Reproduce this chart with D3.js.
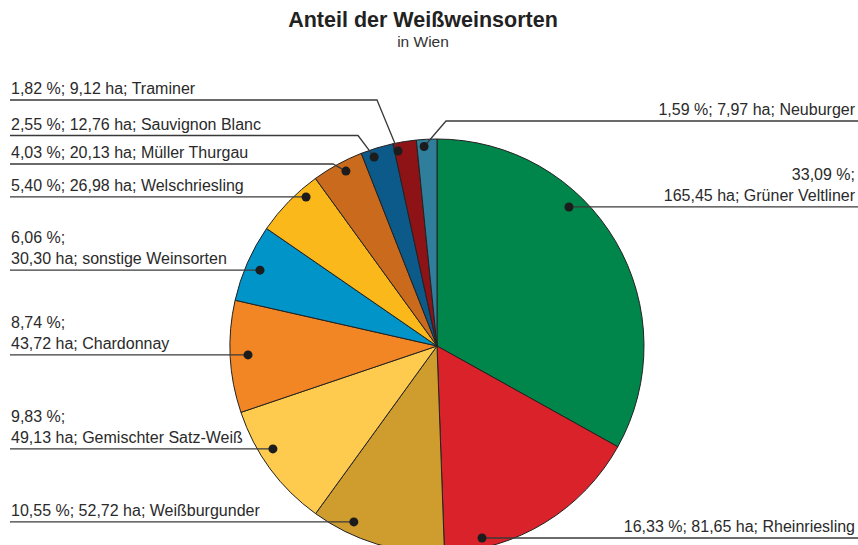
<!DOCTYPE html>
<html lang="de">
<head>
  <meta charset="UTF-8">
  <script src="https://d3js.org/d3.v7.min.js"></script>
  <style>
    body { margin: 0; background: #ffffff; font-family: "Liberation Sans", Arial, sans-serif; }
    .slice { stroke: #222222; stroke-width: 1px; }
    .leader { fill: none; stroke: #3a3a3a; stroke-width: 1.3px; }
    .dot { fill: #1c1c1c; }
    .label { font-size: 16px; fill: #2a2a2a; }
  </style>
</head>
<body>
  <div id="chart"></div>
  <script>
    // Rebsorten im Uhrzeigersinn ab 12 Uhr
    const sorten = ["Grüner Veltliner", "Rheinriesling", "Weißburgunder", "Gemischter Satz-Weiß",
      "Chardonnay", "sonstige Weinsorten", "Welschriesling", "Müller Thurgau",
      "Sauvignon Blanc", "Traminer", "Neuburger"];
    const anteil = [33.09, 16.33, 10.55, 9.83, 8.74, 6.06, 5.40, 4.03, 2.55, 1.82, 1.59];
    const hektar = [165.45, 81.65, 52.72, 49.13, 43.72, 30.30, 26.98, 20.13, 12.76, 9.12, 7.97];
    const farben = ["#00854a", "#d92229", "#cf9d2e", "#fecb4f", "#f28524", "#0094c9",
      "#fbb81b", "#c96a1c", "#0b5a8a", "#8d1317", "#2f7f9c"];

    const width = 858, height = 545;
    const cx = 437, cy = 346, R = 207;

    // Lage der Punkte (Winkel in Grad, Radius), Zeilenumbruch, Knickpunkt der Linie
    const dotAngle = [43.5, 166.8, 205.3, 237.9, 267.3, 293.2, 318.7, 332.5, 341.6, 348.7, 356.3];
    const dotRadius = [191.7, 197.2, 194.6, 193.7, 189.2, 192.6, 198.4, 197.2, 199.2, 198.9, 199.9];
    const twoLines = [true, false, false, true, true, true, false, false, false, false, false];
    const elbow = [null, null, null, null, null, null, null, [333, 164], [358, 135.5], [377, 100], [446, 121]];

    const de = d3.formatLocale({ decimal: ",", thousands: ".", grouping: [3], currency: ["", " €"] });
    const f2 = de.format(".2f");

    const svg = d3.select("#chart").append("svg")
      .attr("width", width)
      .attr("height", height);

    svg.append("text")
      .attr("x", 423).attr("y", 27)
      .attr("text-anchor", "middle")
      .style("font-size", "21.5px").style("font-weight", "bold").style("fill", "#222")
      .text("Anteil der Weißweinsorten");
    svg.append("text")
      .attr("x", 423).attr("y", 47)
      .attr("text-anchor", "middle")
      .style("font-size", "15.5px").style("fill", "#333")
      .text("in Wien");

    const pie = d3.pie().sort(null).value(d => d);
    const arc = d3.arc().innerRadius(0).outerRadius(R);
    const arcs = pie(anteil);

    const g = svg.append("g").attr("transform", `translate(${cx},${cy})`);
    g.selectAll("path.slice")
      .data(arcs)
      .enter().append("path")
      .attr("class", "slice")
      .attr("d", arc)
      .attr("fill", (d, i) => farben[i]);

    const toRad = d3.scaleLinear().domain([0, 360]).range([0, 2 * Math.PI]);

    sorten.forEach((name, i) => {
      const [px, py] = d3.pointRadial(toRad(dotAngle[i]), dotRadius[i]);
      const dx = cx + px, dy = cy + py;
      const right = dotAngle[i] < 180 || dotAngle[i] > 354;
      const e = elbow[i];
      const lineY = e ? e[1] : dy;
      const edgeX = right ? width : 10;

      let pts = e ? [[edgeX, lineY], [e[0], lineY], [dx, dy]] : [[edgeX, lineY], [dx, dy]];
      svg.append("path")
        .attr("class", "leader")
        .attr("d", d3.line()(pts));

      svg.append("circle")
        .attr("class", "dot")
        .attr("cx", dx).attr("cy", dy).attr("r", 4.5);

      const p = f2(anteil[i]) + " %;";
      const h = f2(hektar[i]) + " ha; " + name;
      const lines = twoLines[i] ? [p, h] : [p + " " + h];
      const tx = right ? width - 3 : 11;
      lines.forEach((t, k) => {
        svg.append("text")
          .attr("class", "label")
          .attr("x", tx)
          .attr("y", lineY - 6 - (lines.length - 1 - k) * 21)
          .attr("text-anchor", right ? "end" : "start")
          .text(t);
      });
    });
  </script>
</body>
</html>
